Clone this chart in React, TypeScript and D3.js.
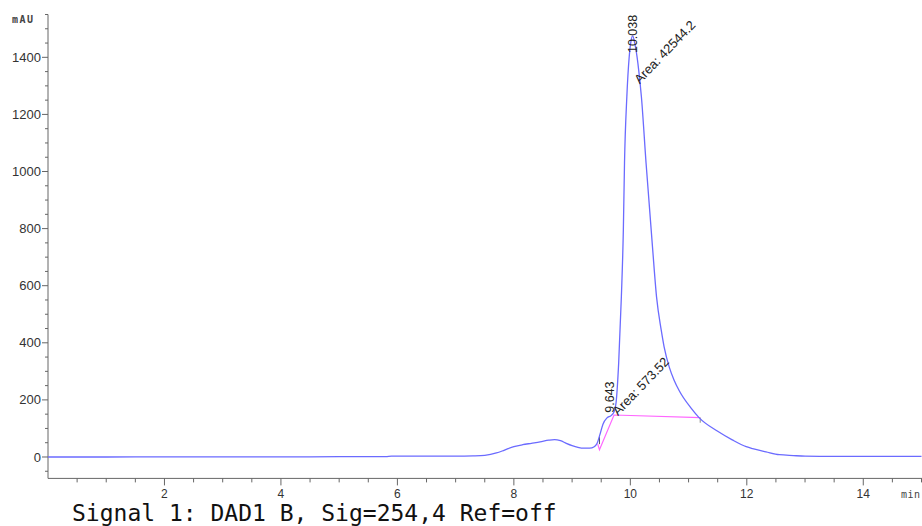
import React from "react";
import * as d3 from "d3";

const W = 922;
const H = 526;

// chromatogram signal (time in min, absorbance in mAU)
const times = [
  0, 1, 2, 3, 4, 5, 5.8, 5.9, 6.5, 7.0, 7.3, 7.5, 7.6, 7.7, 7.8, 7.9, 8.0, 8.15, 8.3, 8.45, 8.6, 8.7, 8.8, 8.9,
  9.0, 9.1, 9.2, 9.3, 9.38, 9.43, 9.48, 9.53, 9.6, 9.67, 9.72, 9.755, 9.8, 9.846, 9.88, 9.9, 9.94, 9.98, 10.01,
  10.04, 10.08, 10.13, 10.19, 10.27, 10.38, 10.45, 10.53, 10.58, 10.67, 10.75, 10.84, 11.04, 11.18, 11.5, 11.75,
  11.99, 12.1, 12.33, 12.56, 12.8, 13.0, 13.5, 14, 15,
];
const values = [
  0, 0, 0.5, 0.5, 0.5, 1, 1, 3, 3, 3, 4, 6, 9, 14, 21, 29, 36, 43, 48, 53, 59, 61, 57, 48,
  40, 34, 31, 31, 36, 48, 80, 115, 137, 145, 158, 190, 330, 561, 795, 1030, 1262, 1400, 1455,
  1475, 1445, 1379, 1262, 1030, 737, 561, 445, 386, 314, 270, 232, 172, 138, 90, 60,
  36, 29, 18, 8, 5, 3, 2, 2, 2,
];

// integration baseline (magenta)
const baseTimes = [9.44, 9.47, 9.72, 11.2];
const baseValues = [45, 25, 147, 138];

const xMajorTicks = [2, 4, 6, 8, 10, 12, 14];
const yMajorTicks = [0, 200, 400, 600, 800, 1000, 1200, 1400];

const peakTimes = [9.643, 10.038];
const peakLabels = ["9.643", "10.038"];
const areaLabels = ["Area: 573.52", "Area: 42544.2"];
const peakLabelValues = [155, 1415];
const areaLabelTimes = [9.79, 10.16];
const areaLabelValues = [143, 1305];

const caption = "Signal 1: DAD1 B, Sig=254,4 Ref=off";

export default function App() {
  const x = d3.scaleLinear().domain([0, 15]).range([48, 921.5]);
  const y = d3.scaleLinear().domain([-75, 1550]).range([478.4, 14.5]);

  const pts: [number, number][] = times.map((t, i) => [t, values[i]]);
  const line = d3
    .line<[number, number]>()
    .x((d) => x(d[0]))
    .y((d) => y(d[1]))
    .curve(d3.curveMonotoneX);

  const basePts: [number, number][] = baseTimes.map((t, i) => [t, baseValues[i]]);
  const baseLine = d3
    .line<[number, number]>()
    .x((d) => x(d[0]))
    .y((d) => y(d[1]));

  const xMinor = d3.range(0.5, 15.01, 0.5).filter((t) => Math.abs(t % 2) > 1e-6);
  const yMinor = d3.range(-50, 1551, 50).filter((v) => Math.abs(v % 200) > 1e-6);

  const axisColor = "#666";
  const labelColor = "#333";
  const x0 = x(0);
  const yAxisY = y(-75);

  return (
    <svg
      width={W}
      height={H}
      style={{ position: "absolute", left: 0, top: 0, background: "#fff" }}
      fontFamily="'Liberation Sans', Arial, sans-serif"
    >
      {/* y axis */}
      <line x1={x0} x2={x0} y1={y(1550)} y2={yAxisY} stroke={axisColor} strokeWidth={1} />
      {yMajorTicks.map((v) => (
        <g key={"ym" + v}>
          <line x1={x0 - 6} x2={x0} y1={y(v)} y2={y(v)} stroke={axisColor} />
          <text x={x0 - 7} y={y(v)} dy="0.35em" textAnchor="end" fontSize={13} fill={labelColor}>
            {v}
          </text>
        </g>
      ))}
      {yMinor.map((v) => (
        <line key={"yn" + v} x1={x0 - 3} x2={x0} y1={y(v)} y2={y(v)} stroke={axisColor} />
      ))}
      <text
        x={12}
        y={23}
        fontSize={10}
        fontFamily="'DejaVu Sans Mono', monospace"
        letterSpacing={1.5}
        fill="#444"
        fontWeight="bold"
      >
        mAU
      </text>

      {/* x axis */}
      <line x1={x0} x2={W} y1={yAxisY} y2={yAxisY} stroke={axisColor} strokeWidth={1} />
      {xMajorTicks.map((t) => (
        <g key={"xm" + t}>
          <line x1={x(t)} x2={x(t)} y1={yAxisY} y2={yAxisY + 7} stroke={axisColor} />
          <text x={x(t)} y={498} textAnchor="middle" fontSize={12} fill={labelColor}>
            {t}
          </text>
        </g>
      ))}
      {xMinor.map((t) => (
        <line key={"xn" + t} x1={x(t)} x2={x(t)} y1={yAxisY} y2={yAxisY + 4} stroke={axisColor} />
      ))}
      <text
        x={901}
        y={498}
        fontSize={10}
        fontFamily="'DejaVu Sans Mono', monospace"
        letterSpacing={0.5}
        fill="#444"
      >
        min
      </text>

      {/* baseline of integration */}
      <path d={baseLine(basePts) ?? ""} fill="none" stroke="#ff66ff" strokeWidth={1.2} />
      <line x1={x(9.47)} x2={x(9.47)} y1={y(70)} y2={y(45)} stroke="#555" strokeWidth={1} />
      <line x1={x(11.2)} x2={x(11.2)} y1={y(138)} y2={y(120)} stroke="#888" strokeWidth={1} />

      {/* signal */}
      <path d={line(pts) ?? ""} fill="none" stroke="#6b6bff" strokeWidth={1.3} />

      {/* peak annotations */}
      {peakTimes.map((t, i) => (
        <text
          key={"pl" + i}
          transform={`translate(${x(t) + 4.5},${y(peakLabelValues[i])}) rotate(-90)`}
          fontSize={12.5}
          fill="#222"
        >
          {peakLabels[i]}
        </text>
      ))}
      {areaLabelTimes.map((t, i) => (
        <text
          key={"al" + i}
          transform={`translate(${x(t)},${y(areaLabelValues[i])}) rotate(-46)`}
          fontSize={13}
          fill="#222"
        >
          {areaLabels[i]}
        </text>
      ))}

      {/* caption */}
      <text x={72} y={521} fontSize={23} fontFamily="'DejaVu Sans Mono', monospace" fill="#111">
        {caption}
      </text>
    </svg>
  );
}
